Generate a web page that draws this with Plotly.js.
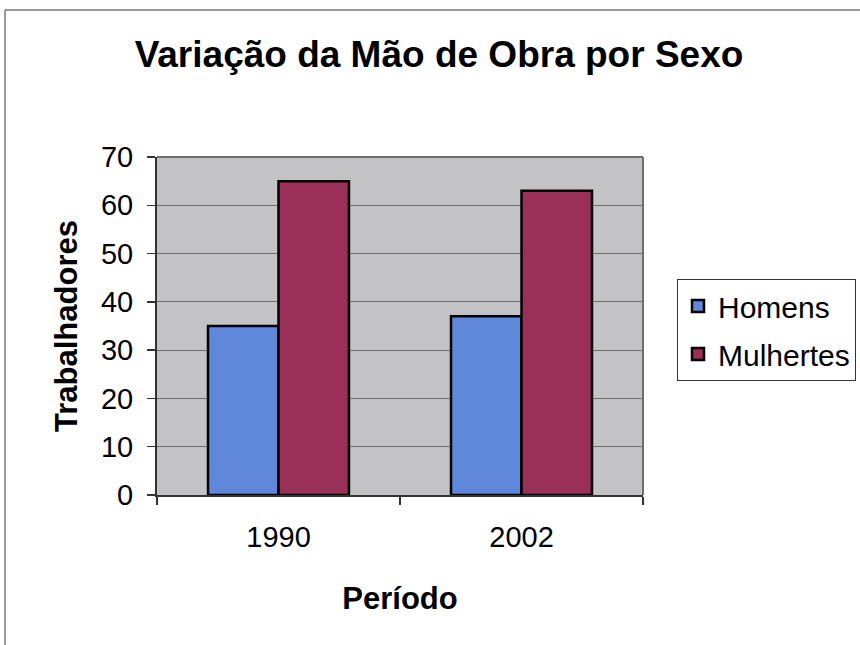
<!DOCTYPE html>
<html>
<head>
<meta charset="utf-8">
<script src="https://cdn.plot.ly/plotly-3.0.1.min.js"></script>
<style>
  html, body { margin: 0; padding: 0; background: #ffffff; }
  #chart { width: 860px; height: 645px; }
</style>
</head>
<body>
<div id="chart"></div>
<script>
// Workforce by sex, per period
const periods = ['1990', '2002'];
const homens = [35, 37];
const mulheres = [65, 63];
const yTicks = [0, 10, 20, 30, 40, 50, 60, 70];

const font = 'Liberation Sans, Arial, sans-serif';

const traces = [
  {
    type: 'bar', name: 'Homens', x: periods, y: homens, legendgroup: 'h',
    marker: { color: '#5f88da', line: { color: '#000000', width: 2.5 } }
  },
  {
    type: 'bar', name: 'Mulhertes', x: periods, y: mulheres, legendgroup: 'm',
    marker: { color: '#9a2f58', line: { color: '#000000', width: 2.5 } }
  }
];

// plot area in pixels: x 157..643, y 157..495
const PW = 486, PH = 338;

const layout = {
  width: 860, height: 645,
  paper_bgcolor: '#ffffff',
  plot_bgcolor: '#c3c2c5',
  font: { family: font, color: '#000000' },
  margin: { l: 157, r: 217, t: 157, b: 150, pad: 0, autoexpand: false },
  barmode: 'group',
  bargap: 0.42,
  bargroupgap: 0,
  title: {
    text: '<b>Variação da Mão de Obra por Sexo</b>',
    font: { family: font, size: 37, color: '#000000' },
    x: 439 / 860, xref: 'container', xanchor: 'center',
    y: 1 - 54 / 645, yref: 'container', yanchor: 'middle'
  },
  xaxis: {
    type: 'category',
    tickson: 'boundaries',
    ticks: 'outside', ticklen: 8, tickcolor: '#333333', tickwidth: 1.5,
    showline: true, linecolor: '#333333', linewidth: 2,
    showgrid: false,
    tickfont: { family: font, size: 29 },
    ticklabelstandoff: 15,
    title: { text: '<b>Período</b>', font: { family: font, size: 31 }, standoff: 36 }
  },
  yaxis: {
    range: [0, 70],
    tickvals: yTicks,
    ticks: 'outside', ticklen: 8, tickcolor: '#333333', tickwidth: 1.5,
    showline: true, linecolor: '#333333', linewidth: 2,
    showgrid: true, gridcolor: '#6e6e6e', gridwidth: 1,
    zeroline: false,
    tickfont: { family: font, size: 29 },
    ticklabelstandoff: 8,
    title: { text: '<b>Trabalhadores</b>', font: { family: font, size: 31 }, standoff: 14 }
  },
  legend: {
    x: (677 - 157) / PW, xref: 'paper',
    y: (495 - 279) / PH, yref: 'paper',
    xanchor: 'left', yanchor: 'top',
    bgcolor: '#ffffff', bordercolor: '#333333', borderwidth: 1,
    font: { family: font, size: 30 },
    itemwidth: 30, tracegroupgap: 6,
    traceorder: 'grouped'
  },
  showlegend: true,
  shapes: [
    // outer chart frame (top and left edges visible)
    { type: 'line', xref: 'paper', yref: 'paper',
      x0: (5 - 157) / PW, x1: 1.5, y0: 1 + 147 / PH, y1: 1 + 147 / PH,
      line: { color: '#777777', width: 1.5 } },
    { type: 'line', xref: 'paper', yref: 'paper',
      x0: (5 - 157) / PW, x1: (5 - 157) / PW, y0: 1 + 147 / PH, y1: -1,
      line: { color: '#777777', width: 1.5 } },
    // plot area top and right borders
    { type: 'line', xref: 'paper', yref: 'paper', x0: 0, x1: 1, y0: 1, y1: 1,
      line: { color: '#6e6e6e', width: 2 } },
    { type: 'line', xref: 'paper', yref: 'paper', x0: 1, x1: 1, y0: 0, y1: 1,
      line: { color: '#6e6e6e', width: 2 } }
  ]
};

Plotly.newPlot('chart', traces, layout, { displayModeBar: false, staticPlot: true });
</script>
</body>
</html>
